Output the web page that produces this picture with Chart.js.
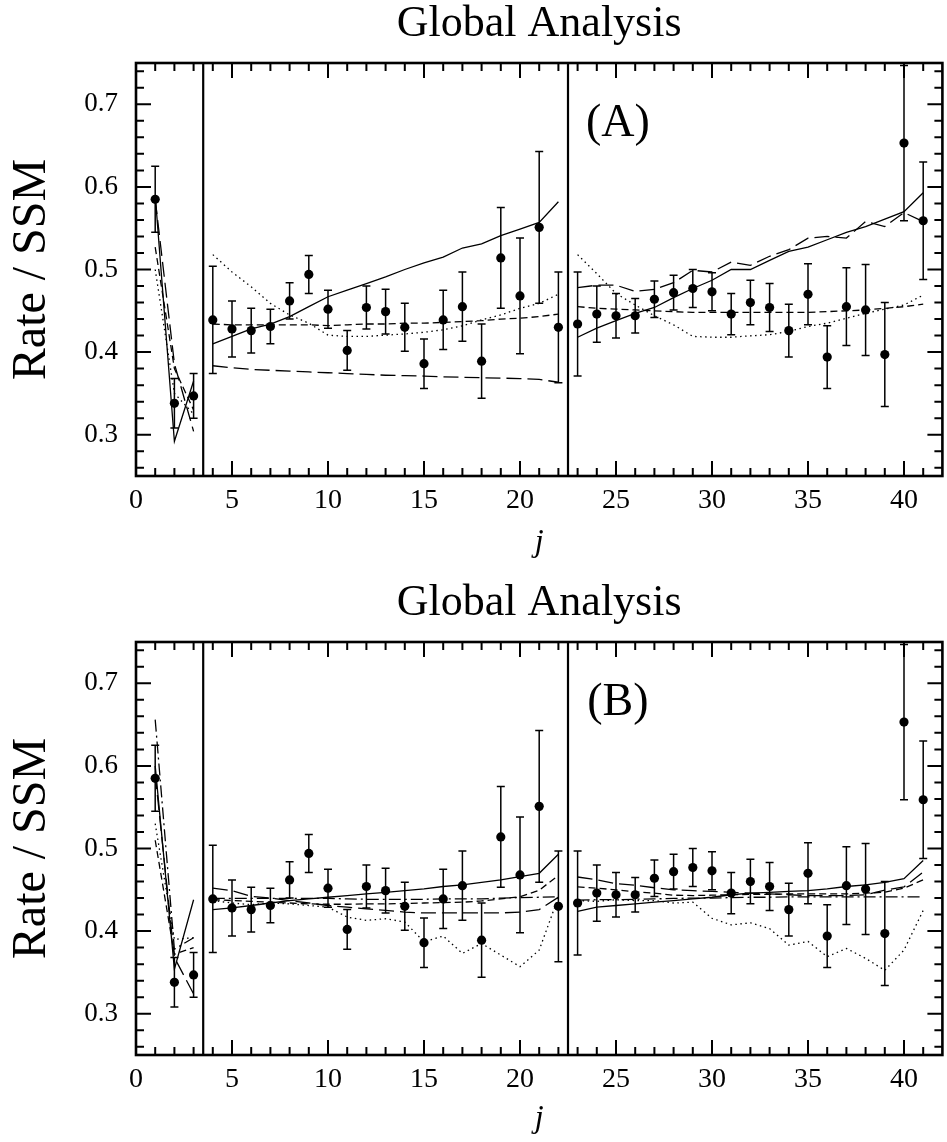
<!DOCTYPE html>
<html>
<head>
<meta charset="utf-8">
<title>Global Analysis</title>
<script src="https://cdn.jsdelivr.net/npm/chart.js@4.4.0/dist/chart.umd.min.js"></script>
<style>
  html, body { margin: 0; padding: 0; background: #fff; }
  canvas { display: block; }
</style>
</head>
<body>
<canvas id="chartA" width="947" height="579"></canvas>
<canvas id="chartB" width="947" height="563"></canvas>
<script>
// bin index j
const bins = [1,2,3,4,5,6,7,8,9,10,11,12,13,14,15,16,17,18,19,20,21,22,23,24,25,26,27,28,29,30,31,32,33,34,35,36,37,38,39,40,41];

// measured rate / SSM and its error
const rate = [0.585,0.338,0.347, 0.439,0.428,0.426,0.431,0.462,0.494,0.452,0.402,0.454,0.449,0.430,0.386,0.439,0.455,0.389,0.514,0.468,0.551,0.430,
  0.434,0.446,0.444,0.444,0.464,0.472,0.477,0.473,0.446,0.460,0.454,0.426,0.470,0.394,0.455,0.451,0.397,0.653,0.559];
const rateErr = [0.040,0.030,0.027, 0.065,0.034,0.027,0.021,0.022,0.023,0.023,0.024,0.026,0.027,0.029,0.030,0.036,0.042,0.045,0.061,0.070,0.092,0.067,
  0.063,0.034,0.027,0.021,0.022,0.021,0.023,0.023,0.025,0.027,0.029,0.032,0.037,0.038,0.047,0.055,0.063,0.094,0.071];

// panel (A) model curves
const solidA = [0.590,0.292,0.365, 0.410,0.419,0.428,0.434,0.443,0.455,0.467,0.475,0.483,0.491,0.500,0.508,0.515,0.526,0.531,0.541,0.549,0.557,0.582,
  0.418,0.429,0.438,0.447,0.454,0.466,0.477,0.487,0.500,0.500,0.511,0.522,0.527,0.536,0.545,0.552,0.561,0.570,0.593];
const longDashA = [0.585,0.386,0.304, 0.3835,0.381,0.379,0.378,0.377,0.376,0.375,0.374,0.373,0.372,0.3715,0.371,0.370,0.3695,0.369,0.3685,0.368,0.367,0.3635,
  0.478,0.481,0.481,0.4735,0.476,0.484,0.499,0.497,0.509,0.505,0.516,0.524,0.538,0.540,0.538,0.558,0.552,0.569,0.558];
const shortDashA = [0.527,0.380,0.330, 0.434,0.433,0.433,0.433,0.433,0.433,0.432,0.433,0.434,0.434,0.435,0.435,0.436,0.437,0.438,0.440,0.441,0.443,0.446,
  0.455,0.453,0.452,0.451,0.450,0.449,0.448,0.448,0.448,0.448,0.448,0.448,0.448,0.449,0.450,0.451,0.453,0.455,0.458];
const dottedA = [0.500,0.350,0.325, 0.518,0.497,0.479,0.459,0.445,0.435,0.4205,0.419,0.419,0.4205,0.422,0.424,0.427,0.4317,0.439,0.445,0.453,0.459,0.470,
  0.518,0.495,0.471,0.457,0.444,0.433,0.419,0.418,0.418,0.4197,0.421,0.425,0.431,0.435,0.441,0.447,0.452,0.457,0.469];

// panel (B) model curves
const solidB = [0.600,0.354,0.438, 0.426,0.428,0.431,0.434,0.437,0.439,0.441,0.443,0.445,0.447,0.449,0.451,0.454,0.456,0.459,0.462,0.466,0.470,0.493,
  0.424,0.429,0.431,0.433,0.435,0.437,0.439,0.441,0.444,0.446,0.447,0.448,0.449,0.451,0.454,0.456,0.459,0.4635,0.4855];
const longDashB = [0.590,0.368,0.324, 0.452,0.449,0.442,0.440,0.437,0.434,0.431,0.429,0.427,0.425,0.423,0.422,0.422,0.422,0.422,0.422,0.423,0.426,0.441,
  0.4655,0.462,0.4575,0.4555,0.4525,0.450,0.449,0.448,0.447,0.446,0.445,0.444,0.443,0.443,0.443,0.444,0.4495,0.4535,0.4715];
const shortDashB = [0.510,0.372,0.380, 0.438,0.437,0.436,0.435,0.434,0.433,0.4325,0.4325,0.433,0.433,0.4335,0.434,0.4345,0.435,0.4365,0.439,0.4415,0.4495,0.4675,
  0.4535,0.452,0.450,0.4475,0.446,0.4435,0.443,0.4435,0.444,0.4445,0.4445,0.445,0.445,0.445,0.445,0.446,0.447,0.452,0.462];
const dashDotB = [0.656,0.378,0.392, 0.4395,0.4395,0.4395,0.4395,0.4395,0.4395,0.4395,0.439,0.4385,0.4385,0.4385,0.4385,0.439,0.439,0.439,0.440,0.4405,0.441,0.4415,
  0.4375,0.438,0.438,0.4385,0.439,0.4395,0.440,0.440,0.4405,0.441,0.441,0.4415,0.4415,0.4415,0.4415,0.4415,0.4415,0.4415,0.4415];
const dottedB = [0.530,0.390,0.392, 0.437,0.434,0.432,0.434,0.433,0.431,0.429,0.417,0.413,0.415,0.411,0.387,0.394,0.373,0.385,0.371,0.357,0.377,0.441,
  0.437,0.436,0.438,0.437,0.437,0.434,0.435,0.4155,0.4075,0.410,0.403,0.383,0.3875,0.369,0.379,0.367,0.3525,0.377,0.425];

// axes
const xTickVals = [0,5,10,15,20,25,30,35,40];
const yTickVals = [0.3,0.4,0.5,0.6,0.7];
const separators = [3.5, 22.5];
const gapAfter = [3, 22];

const serif = '"Liberation Serif", "Times New Roman", serif';

function pts(arr) {
  return bins.map((j, i) => ({ x: j, y: arr[i] }));
}

function curve(arr, dash) {
  return {
    type: 'line',
    data: pts(arr),
    borderColor: '#000',
    borderWidth: 1.3,
    borderDash: dash,
    pointRadius: 0,
    fill: false,
    tension: 0,
    order: 2,
    segment: {
      borderColor: c => gapAfter.includes(c.p0.parsed.x) ? 'rgba(0,0,0,0)' : undefined
    }
  };
}

const errorBars = {
  id: 'errorBars',
  beforeDatasetsDraw(chart) {
    const { ctx, chartArea: a, scales: { x, y } } = chart;
    ctx.save();
    ctx.beginPath();
    ctx.rect(a.left, a.top, a.right - a.left, a.bottom - a.top);
    ctx.clip();
    ctx.strokeStyle = '#000';
    ctx.lineWidth = 1.5;
    bins.forEach((j, i) => {
      const px = x.getPixelForValue(j);
      const lo = y.getPixelForValue(rate[i] - rateErr[i]);
      const hi = y.getPixelForValue(rate[i] + rateErr[i]);
      ctx.beginPath();
      ctx.moveTo(px, lo); ctx.lineTo(px, hi);
      ctx.moveTo(px - 4, lo); ctx.lineTo(px + 4, lo);
      ctx.moveTo(px - 4, hi); ctx.lineTo(px + 4, hi);
      ctx.stroke();
    });
    ctx.restore();
  }
};

const frame = {
  id: 'frame',
  afterDraw(chart, args, opts) {
    const { ctx, chartArea: a, scales: { x, y } } = chart;
    ctx.save();
    ctx.strokeStyle = '#000';
    ctx.lineCap = 'butt';

    // region separators
    ctx.lineWidth = 2.2;
    separators.forEach(s => {
      const px = x.getPixelForValue(s);
      ctx.beginPath(); ctx.moveTo(px, a.top); ctx.lineTo(px, a.bottom); ctx.stroke();
    });

    // inward ticks on all four sides
    ctx.lineWidth = 2;
    ctx.beginPath();
    for (let v = 1; v < 42; v++) {
      const px = x.getPixelForValue(v);
      const len = v % 5 === 0 ? 15 : 8;
      ctx.moveTo(px, a.bottom); ctx.lineTo(px, a.bottom - len);
      ctx.moveTo(px, a.top); ctx.lineTo(px, a.top + len);
    }
    for (let k = 13; k <= 37; k++) {
      const py = y.getPixelForValue(k * 0.02);
      const len = k % 5 === 0 ? 15 : 8;
      ctx.moveTo(a.left, py); ctx.lineTo(a.left + len, py);
      ctx.moveTo(a.right, py); ctx.lineTo(a.right - len, py);
    }
    ctx.stroke();

    ctx.lineWidth = 2.6;
    ctx.strokeRect(a.left, a.top, a.right - a.left, a.bottom - a.top);

    // title and panel tag
    ctx.fillStyle = '#000';
    ctx.textAlign = 'center';
    ctx.textBaseline = 'alphabetic';
    ctx.font = '44px ' + serif;
    ctx.fillText('Global Analysis', (a.left + a.right) / 2, opts.titleY);
    ctx.textBaseline = 'middle';
    ctx.font = '46px ' + serif;
    ctx.fillText(opts.tag, x.getPixelForValue(25.1), y.getPixelForValue(0.676));
    ctx.restore();
  }
};

function makeChart(id, tag, curves, xHeight, jPad) {
  return new Chart(document.getElementById(id), {
    data: {
      datasets: [
        {
          type: 'scatter',
          data: pts(rate),
          pointRadius: 4.6,
          pointHoverRadius: 4.6,
          pointBackgroundColor: '#000',
          pointBorderWidth: 0,
          order: 0
        },
        ...curves
      ]
    },
    options: {
      responsive: false,
      animation: false,
      events: [],
      layout: { padding: { top: 63, right: 3, left: 0, bottom: 0 } },
      plugins: {
        legend: { display: false },
        tooltip: { enabled: false },
        frame: { titleY: 36, tag: tag }
      },
      scales: {
        x: {
          type: 'linear',
          min: 0,
          max: 42,
          afterBuildTicks: s => { s.ticks = xTickVals.map(v => ({ value: v })); },
          afterFit: s => { s.height = xHeight; },
          grid: { display: false, drawTicks: false },
          border: { display: false },
          ticks: { color: '#000', padding: 8, maxRotation: 0, font: { family: serif, size: 28 } },
          title: {
            display: true,
            text: 'j',
            color: '#000',
            padding: { top: 0, bottom: jPad },
            font: { family: serif, size: 32, style: 'italic' }
          }
        },
        y: {
          type: 'linear',
          min: 0.25,
          max: 0.75,
          afterBuildTicks: s => { s.ticks = yTickVals.map(v => ({ value: v })); },
          afterFit: s => { s.width = 136; },
          grid: { display: false, drawTicks: false },
          border: { display: false },
          ticks: {
            color: '#000',
            padding: 18,
            font: { family: serif, size: 27 },
            callback: v => v.toFixed(1)
          },
          title: {
            display: true,
            text: 'Rate / SSM',
            color: '#000',
            padding: { top: 4, bottom: 0 },
            font: { family: serif, size: 48 }
          }
        }
      }
    },
    plugins: [errorBars, frame]
  });
}

makeChart('chartA', '(A)', [
  curve(solidA, []),
  curve(longDashA, [15, 6]),
  curve(shortDashA, [7, 4]),
  curve(dottedA, [1.5, 3.5])
], 103, 17);

makeChart('chartB', '(B)', [
  curve(solidB, []),
  curve(longDashB, [15, 6]),
  curve(shortDashB, [7, 4]),
  curve(dashDotB, [12, 4, 2, 4]),
  curve(dottedB, [1.5, 3.5])
], 87, 4);
</script>
</body>
</html>
